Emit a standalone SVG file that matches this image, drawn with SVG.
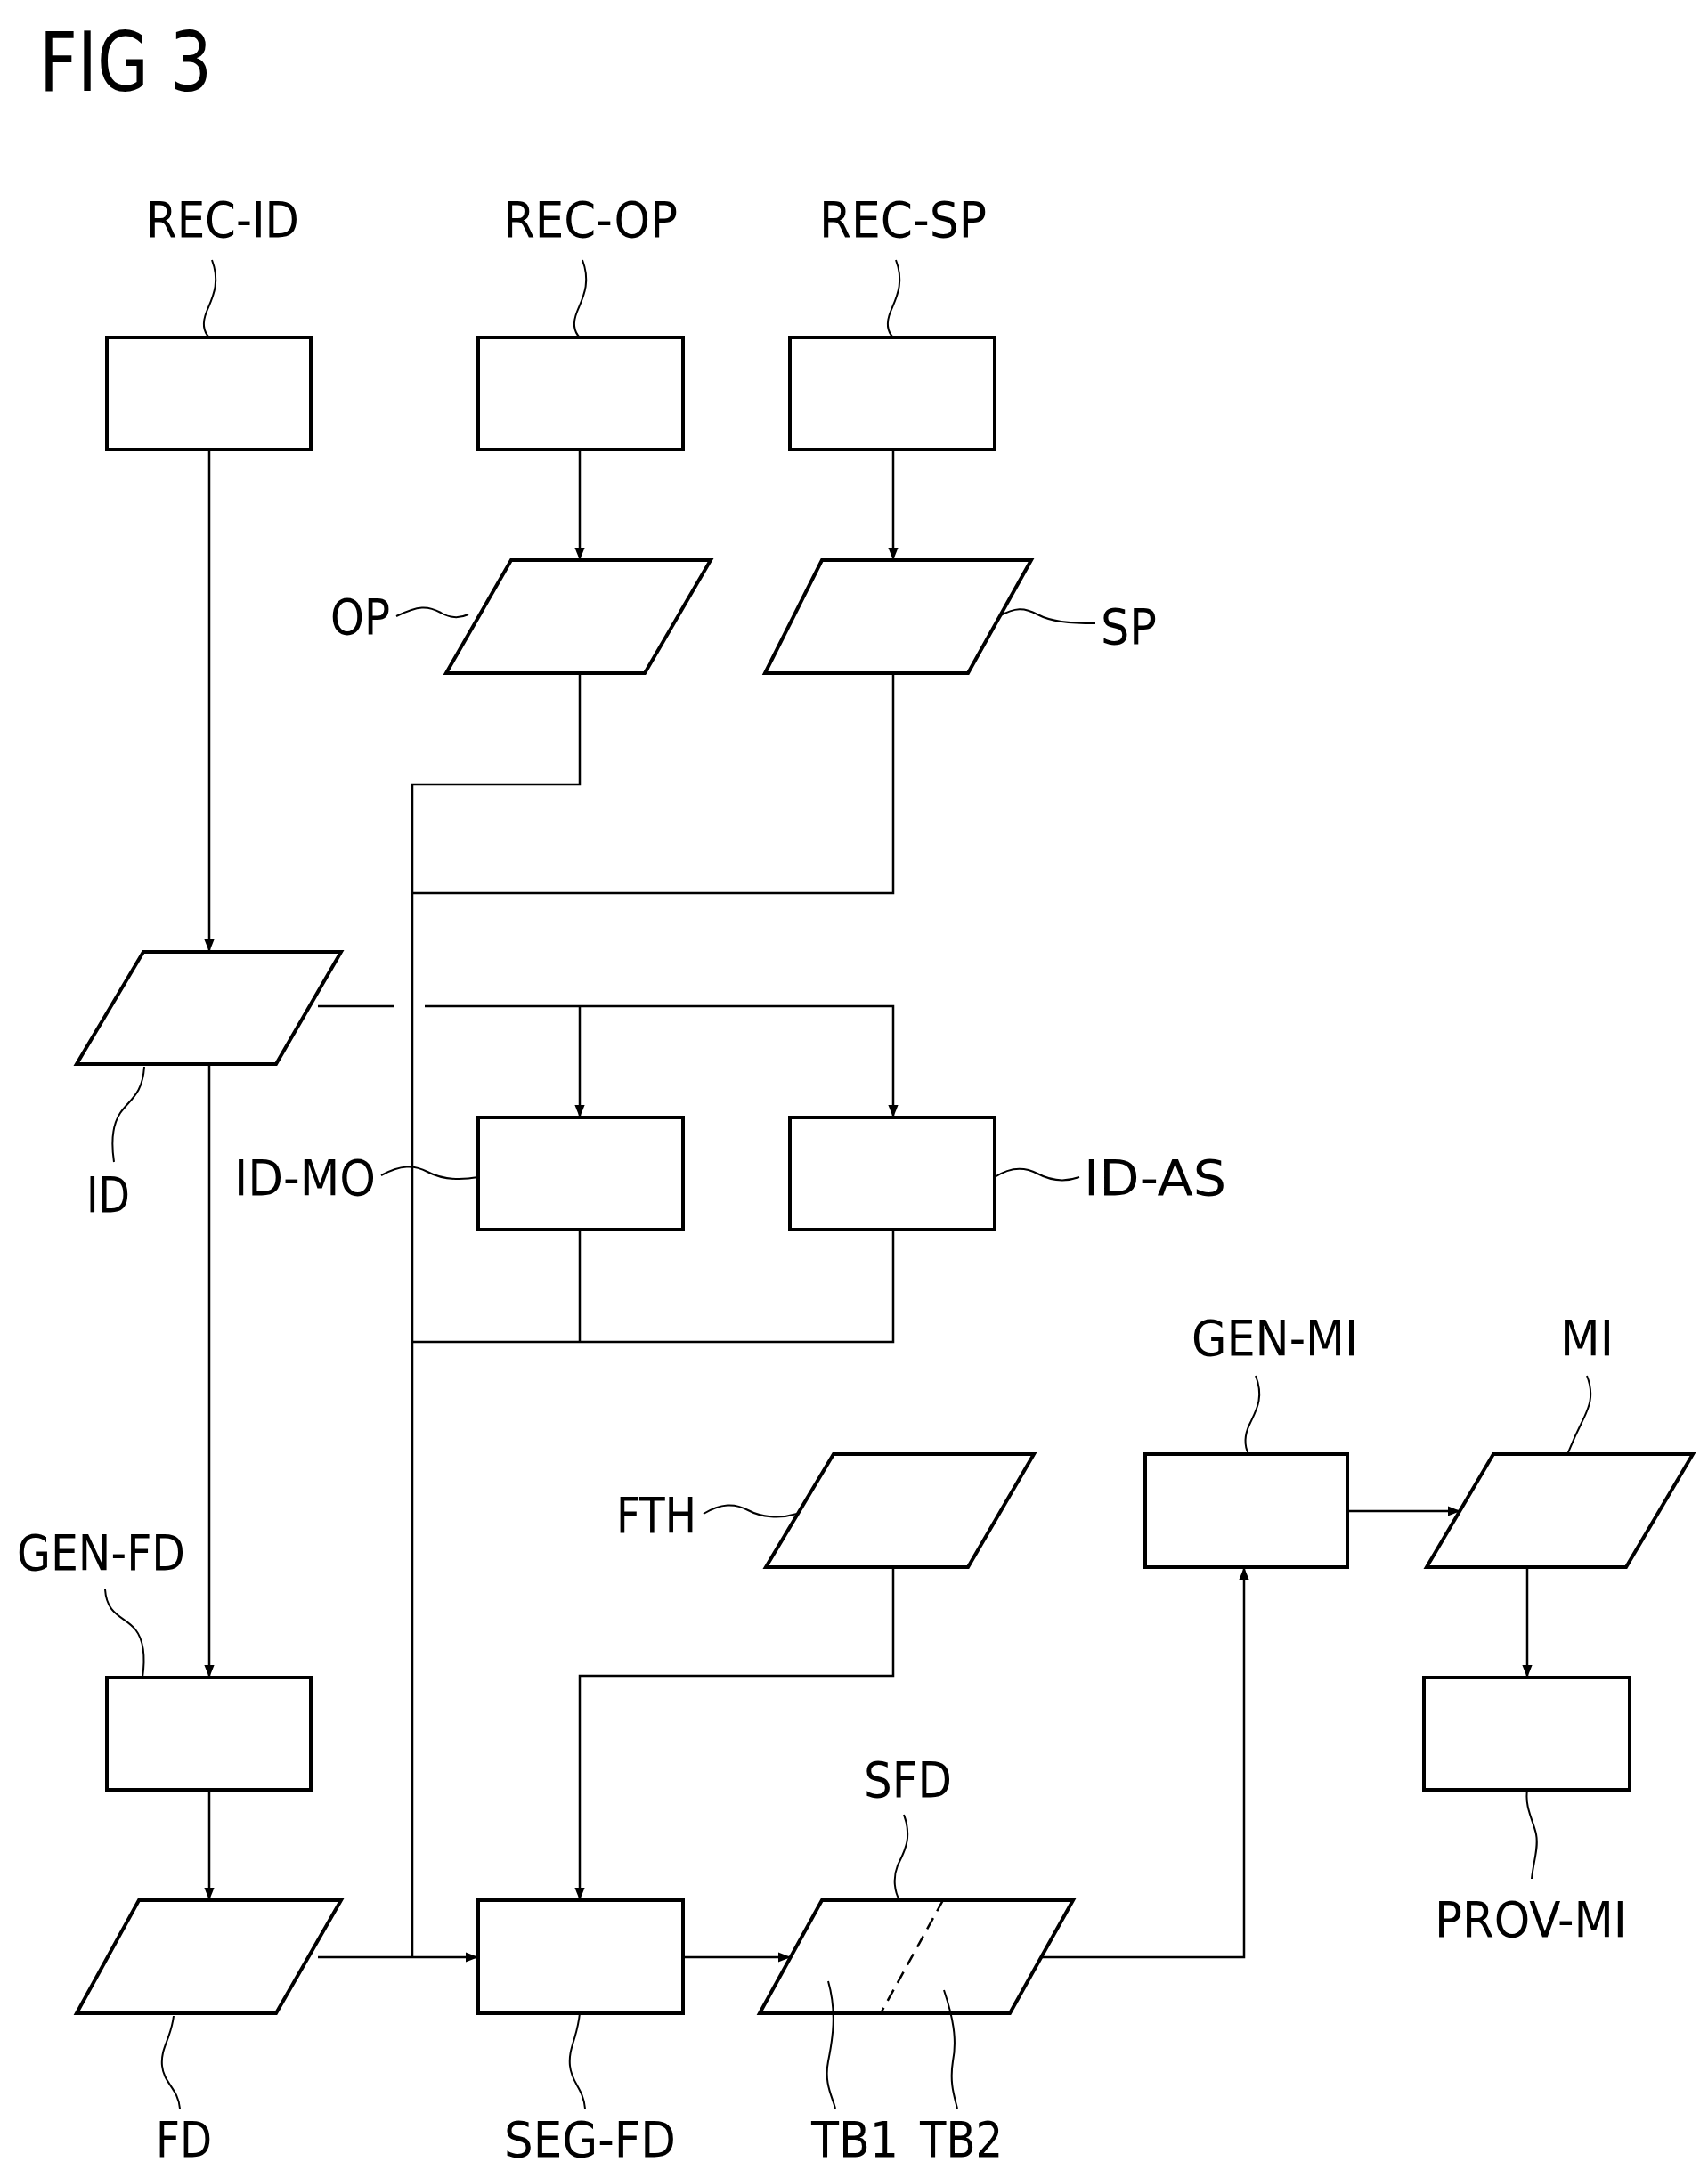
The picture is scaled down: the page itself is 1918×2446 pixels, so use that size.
<svg xmlns="http://www.w3.org/2000/svg" width="1918" height="2446" viewBox="0 0 1918 2446">
<style>
.n{fill:#fff;stroke:#000;stroke-width:4}
.c{fill:none;stroke:#000;stroke-width:2.5}
.l{fill:none;stroke:#000;stroke-width:2}
text{font-family:"DejaVu Sans Condensed","Liberation Sans",sans-serif;font-size:56px;fill:#000}
</style>
<defs><marker id="a" viewBox="0 0 10 10" refX="10" refY="5" markerWidth="14" markerHeight="14" markerUnits="userSpaceOnUse" orient="auto"><path d="M0,1 L10,5 L0,9 Z" fill="#000"/></marker></defs>
<rect width="1918" height="2446" fill="#fff"/>
<text x="44" y="102" style="font-size:92px" textLength="194" lengthAdjust="spacingAndGlyphs">FIG 3</text>
<g id="connectors">
<path class="c" d="M235,505 V1069" marker-end="url(#a)"/>
<path class="c" d="M651,505 V629" marker-end="url(#a)"/>
<path class="c" d="M1003,505 V629" marker-end="url(#a)"/>
<path class="c" d="M651,756 V881 H463 V2198"/>
<path class="c" d="M1003,756 V1003 H463"/>
<path class="c" d="M357,1130 H443 M477,1130 H1003 V1255" marker-end="url(#a)"/>
<path class="c" d="M651,1130 V1255" marker-end="url(#a)"/>
<path class="c" d="M235,1195 V1884" marker-end="url(#a)"/>
<path class="c" d="M651,1381 V1507 M1003,1381 V1507 H463"/>
<path class="c" d="M235,2010 V2134" marker-end="url(#a)"/>
<path class="c" d="M357,2198 H537" marker-end="url(#a)"/>
<path class="c" d="M1003,1760 V1882 H651 V2134" marker-end="url(#a)"/>
<path class="c" d="M767,2198 H888" marker-end="url(#a)"/>
<path class="c" d="M1170,2198 H1397 V1760" marker-end="url(#a)"/>
<path class="c" d="M1513,1697 H1640" marker-end="url(#a)"/>
<path class="c" d="M1715,1760 V1884" marker-end="url(#a)"/>
</g>
<g id="REC-ID"><rect class="n" x="120" y="379" width="229" height="126"/><text x="250" y="266" text-anchor="middle" textLength="172" lengthAdjust="spacingAndGlyphs">REC-ID</text><path class="l" d="M238,292 C248,318 238,335 232,350 C226,365 229,373 235,379"/></g>
<g id="REC-OP"><rect class="n" x="537" y="379" width="230" height="126"/><text x="663" y="266" text-anchor="middle" textLength="196" lengthAdjust="spacingAndGlyphs">REC-OP</text><path class="l" d="M654,292 C664,318 654,335 648,350 C642,365 645,373 651,379"/></g>
<g id="REC-SP"><rect class="n" x="887" y="379" width="230" height="126"/><text x="1014" y="266" text-anchor="middle" textLength="188" lengthAdjust="spacingAndGlyphs">REC-SP</text><path class="l" d="M1006,292 C1016,318 1006,335 1000,350 C994,365 997,373 1003,379"/></g>
<g id="OP"><polygon class="n" points="574,629 798,629 724,756 501,756"/><text x="371" y="712" textLength="67" lengthAdjust="spacingAndGlyphs">OP</text><path class="l" d="M445,692 C470,680 480,680 495,688 C505,694 515,695 526,690"/></g>
<g id="SP"><polygon class="n" points="923,629 1158,629 1087,756 859,756"/><text x="1236" y="723" textLength="63" lengthAdjust="spacingAndGlyphs">SP</text><path class="l" d="M1122,692 C1140,682 1150,682 1165,690 C1180,698 1200,700 1230,700"/></g>
<g id="ID"><polygon class="n" points="161,1069 383,1069 310,1195 86,1195"/><text x="97" y="1361" textLength="49" lengthAdjust="spacingAndGlyphs">ID</text><path class="l" d="M162,1198 C160,1230 145,1235 135,1250 C125,1265 125,1285 128,1305"/></g>
<g id="ID-MO"><rect class="n" x="537" y="1255" width="230" height="126"/><text x="263" y="1342" textLength="159" lengthAdjust="spacingAndGlyphs">ID-MO</text><path class="l" d="M428,1320 C450,1308 465,1308 480,1316 C495,1324 515,1326 537,1322"/></g>
<g id="ID-AS"><rect class="n" x="887" y="1255" width="230" height="126"/><text x="1217" y="1342" textLength="160" lengthAdjust="spacingAndGlyphs">ID-AS</text><path class="l" d="M1117,1322 C1135,1310 1150,1310 1165,1318 C1180,1326 1195,1328 1212,1322"/></g>
<g id="GEN-MI"><rect class="n" x="1286" y="1633" width="227" height="127"/><text x="1338" y="1522" textLength="187" lengthAdjust="spacingAndGlyphs">GEN-MI</text><path class="l" d="M1410,1545 C1420,1570 1410,1585 1403,1600 C1396,1615 1398,1625 1402,1633"/></g>
<g id="MI"><polygon class="n" points="1677,1633 1901,1633 1826,1760 1602,1760"/><text x="1752" y="1522" textLength="60" lengthAdjust="spacingAndGlyphs">MI</text><path class="l" d="M1782,1545 C1792,1570 1782,1585 1775,1600 C1765,1620 1762,1630 1760,1633"/></g>
<g id="FTH"><polygon class="n" points="936,1633 1161,1633 1087,1760 860,1760"/><text x="692" y="1721" textLength="90" lengthAdjust="spacingAndGlyphs">FTH</text><path class="l" d="M790,1700 C810,1688 825,1688 840,1696 C855,1704 875,1706 895,1700"/></g>
<g id="GEN-FD"><rect class="n" x="120" y="1884" width="229" height="126"/><text x="19" y="1763" textLength="189" lengthAdjust="spacingAndGlyphs">GEN-FD</text><path class="l" d="M118,1785 C120,1815 140,1815 152,1830 C164,1845 162,1870 160,1884"/></g>
<g id="PROV-MI"><rect class="n" x="1599" y="1884" width="231" height="126"/><text x="1611" y="2175" textLength="216" lengthAdjust="spacingAndGlyphs">PROV-MI</text><path class="l" d="M1715,2010 C1712,2030 1722,2045 1725,2060 C1728,2075 1722,2090 1720,2110"/></g>
<g id="FD"><polygon class="n" points="156,2134 383,2134 310,2261 86,2261"/><text x="175" y="2422" textLength="63" lengthAdjust="spacingAndGlyphs">FD</text><path class="l" d="M195,2264 C192,2290 180,2300 182,2320 C184,2340 200,2345 202,2368"/></g>
<g id="SEG-FD"><rect class="n" x="537" y="2134" width="230" height="127"/><text x="566" y="2422" textLength="193" lengthAdjust="spacingAndGlyphs">SEG-FD</text><path class="l" d="M651,2261 C648,2290 638,2300 640,2320 C642,2340 655,2345 657,2368"/></g>
<g id="SFD"><polygon class="n" points="923,2134 1205,2134 1134,2261 853,2261"/><line x1="1059" y1="2134" x2="989" y2="2261" stroke="#000" stroke-width="2.5" stroke-dasharray="14,9"/><text x="970" y="2018" textLength="99" lengthAdjust="spacingAndGlyphs">SFD</text><path class="l" d="M1015,2038 C1025,2065 1015,2080 1008,2095 C1002,2110 1005,2125 1010,2134"/>
<text x="911" y="2422" textLength="98" lengthAdjust="spacingAndGlyphs">TB1</text><path class="l" d="M930,2225 C940,2260 935,2290 930,2315 C925,2340 935,2355 938,2368"/>
<text x="1033" y="2422" textLength="93" lengthAdjust="spacingAndGlyphs">TB2</text><path class="l" d="M1060,2235 C1070,2265 1075,2290 1070,2315 C1066,2340 1072,2355 1075,2368"/></g>
</svg>
